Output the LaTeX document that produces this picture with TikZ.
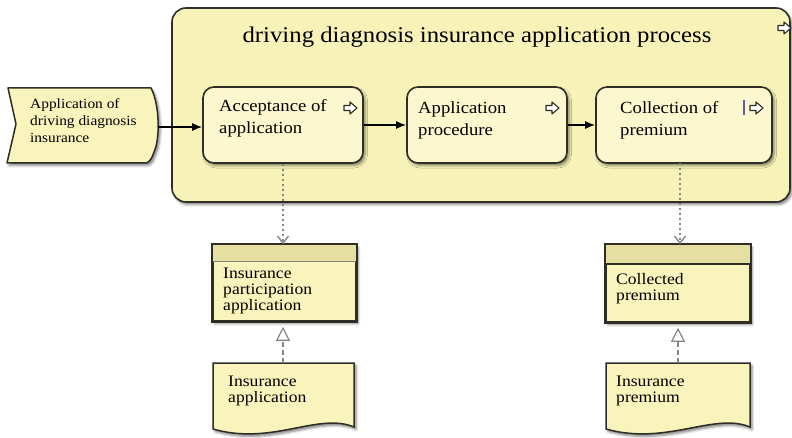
\documentclass[tikz,border=0pt]{standalone}
\usepackage{fontspec}
\setmainfont{Liberation Serif}[FakeStretch=1.1]
\usetikzlibrary{arrows.meta,shadows.blur,calc}

\definecolor{procfill}{HTML}{F7F3B8}
\definecolor{taskfill}{HTML}{FBF8CF}
\definecolor{bodyfill}{HTML}{F8F4BB}
\definecolor{hdrfill}{HTML}{E5E0A1}
\definecolor{outline}{HTML}{2E2E26}
\definecolor{linkgray}{HTML}{858585}

\tikzset{
  softshadow/.style={blur shadow={shadow xshift=2pt,shadow yshift=-2.5pt,shadow blur radius=2.5pt,shadow opacity=50}},
  procbox/.style={draw=outline,line width=1.6pt,fill=procfill,rounded corners=14pt,softshadow,inner sep=0pt},
  taskbox/.style={draw=outline,line width=1.6pt,fill=taskfill,rounded corners=11pt,softshadow,inner sep=0pt,minimum height=76pt},
  databox/.style={draw=outline,line width=1.6pt,fill=bodyfill,softshadow,inner sep=0pt},
  docshape/.style={draw=outline,line width=1.5pt,fill=bodyfill,softshadow},
  label/.style={inner sep=0pt,align=left,anchor=north west,text=black},
  tasktext/.style={label,font=\fontsize{17}{22}\selectfont},
  datatext/.style={label,font=\fontsize{16}{16}\selectfont},
  flow/.style={draw=black,line width=1.6pt,-{Latex[length=10pt,width=8pt]}},
  assoc/.style={draw=linkgray,line width=1.8pt,dash pattern=on 1.8pt off 3.2pt,-{Straight Barb[length=7pt,width=11pt,line width=1.4pt]}},
  realize/.style={draw=linkgray,line width=1.4pt,dash pattern=on 5pt off 3pt,-{Triangle[open,length=14pt,width=14pt,line width=1.2pt,fill=white]}},
  flowicon/.pic={
    \draw[outline,line width=1.1pt,fill=white,line join=round]
      (-6,-2.5) -- (0,-2.5) -- (0,-6) -- (7,0) -- (0,6) -- (0,2.5) -- (-6,2.5) -- cycle;
  }
}

\begin{document}
\begin{tikzpicture}[x=1pt,y=-1pt]
  \useasboundingbox (0,0) rectangle (792,438);

  % enclosing process
  \node[procbox,minimum width=618pt,minimum height=194pt] (proc) at (481,105) {};
  \node[inner sep=0pt,anchor=base,font=\fontsize{22.5}{26}\selectfont] (title) at (477,43)
    {driving diagnosis insurance application process};
  \pic at (784,28) {flowicon};

  % triggering event
  \draw[docshape,line join=round] (8,88) -- (151,88)
    .. controls (160,105) and (160,140) .. (154,152)
    .. controls (152,158) and (150,162) .. (146,163)
    -- (7,163) -- (16,124) -- cycle;
  \coordinate (evout) at (158,127);
  \node[label,font=\fontsize{14}{17}\selectfont] (evtext) at (30,98.5)
    {Application of\\driving diagnosis\\insurance};

  % process steps
  \node[taskbox,minimum width=160pt] (acc) at (283,125) {};
  \node[tasktext] (acctext) at (219,99.4) {Acceptance of\\application};
  \pic at (350,108) {flowicon};

  \node[taskbox,minimum width=160pt] (proced) at (487,125) {};
  \node[tasktext] (procedtext) at (418,101.4) {Application\\procedure};
  \pic at (552,108) {flowicon};

  \node[taskbox,minimum width=176pt] (coll) at (684,125) {};
  \node[tasktext] (colltext) at (620,101.4) {Collection of\\premium};
  \draw[linkgray!70!blue,line width=1.2pt] (744,100) -- (744,115);
  \pic at (756,108) {flowicon};

  % sequence flow
  \draw[flow] (evout) -- (evout -| acc.west);
  \draw[flow] (acc.east) -- (proced.west);
  \draw[flow] (proced.east) -- (coll.west);

  % business objects
  \node[databox,minimum width=143pt,minimum height=76pt] (datA) at (284.5,283) {};
  \fill[hdrfill] (datA.north west) rectangle ($(datA.north east)+(0,17)$);
  \draw[outline!60,line width=0.8pt] ($(datA.north west)+(0,17)$) -- ($(datA.north east)+(0,17)$);
  \draw[outline,line width=1.6pt] (datA.north west) rectangle (datA.south east);
  \node[datatext] (datAtext) at (223,267.5) {Insurance\\participation\\application};

  \node[databox,minimum width=144pt,minimum height=77pt] (datB) at (678,283.5) {};
  \fill[hdrfill] (datB.north west) rectangle ($(datB.north east)+(0,20)$);
  \draw[outline,line width=1.4pt] ($(datB.north west)+(0,20)$) -- ($(datB.north east)+(0,20)$);
  \draw[outline,line width=1.6pt] (datB.north west) rectangle (datB.south east);
  \node[datatext] (datBtext) at (616,273.5) {Collected\\premium};

  % access links
  \draw[assoc] (acc.south) -- (acc.south |- datA.north);
  \coordinate (collout) at (680,163);
  \draw[assoc] (collout) -- (collout |- datB.north);

  % representations
  \draw[docshape] (213,363) -- (354,363) -- (354,427)
    .. controls (318,412) and (272,446) .. (213,429) -- cycle;
  \coordinate (docA) at (283,363);
  \node[datatext] (docAtext) at (228,375.5) {Insurance\\application};

  \draw[docshape] (606,363) -- (750,363) -- (750,427)
    .. controls (714,412) and (666,446) .. (606,429) -- cycle;
  \coordinate (docB) at (678,363);
  \node[datatext] (docBtext) at (616,375.5) {Insurance\\premium};

  % realization links
  \draw[realize] (docA) -- ($(docA |- datA.south)+(0,5)$);
  \draw[realize] (docB) -- ($(docB |- datB.south)+(0,5)$);
\end{tikzpicture}
\end{document}
